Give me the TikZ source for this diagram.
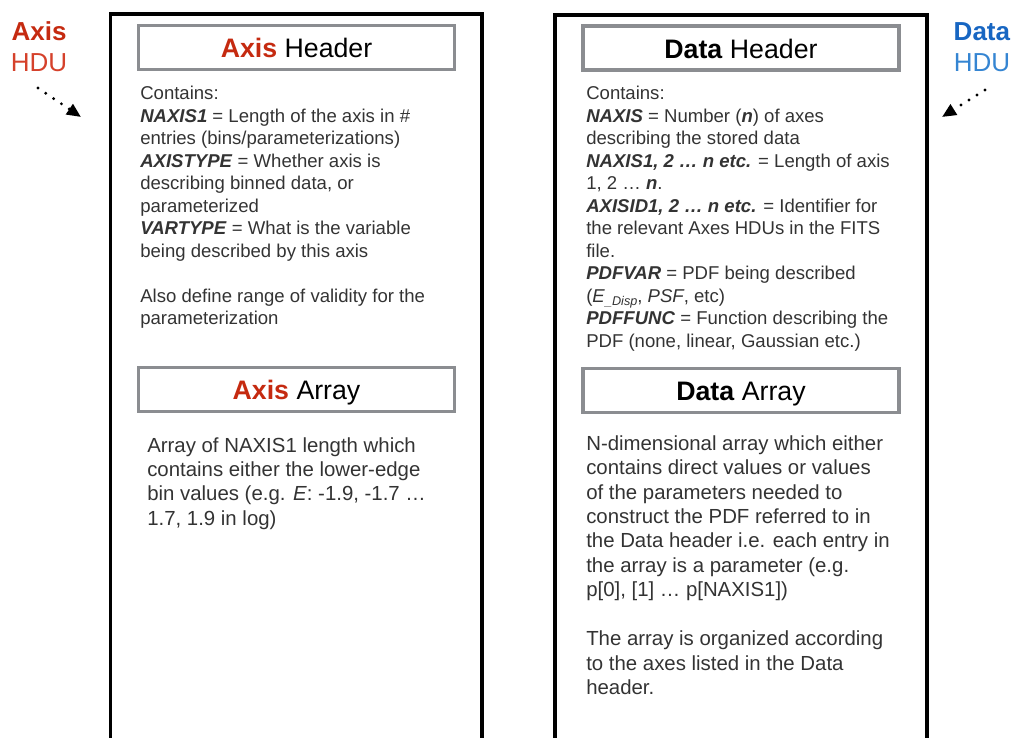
\documentclass[tikz,border=0pt]{standalone}
\usepackage{fontspec}
\setmainfont{Liberation Sans}
\usetikzlibrary{arrows.meta,positioning}

\definecolor{axisred}{HTML}{C52A10}
\definecolor{hdured}{HTML}{D5412B}
\definecolor{datablue}{HTML}{1766C2}
\definecolor{hdublue}{HTML}{3585D2}
\definecolor{boxgray}{HTML}{8B8D91}
\definecolor{bodytext}{HTML}{333333}

\newcommand{\keyword}[1]{\textbf{\textit{#1}}}
\newcommand{\edisp}{\textit{E}\raisebox{-0.3ex}{\fontsize{9}{9}\selectfont\textit{\_Disp}}}

\begin{document}
\begin{tikzpicture}[x = 0.025cm, y = -0.025cm,
    hdu/.style = {line width = 2.5pt, draw = black},
    titlebox/.style = {draw = boxgray, line width = 2.5pt, inner sep = 0pt,
        minimum width = 7.9cm, minimum height = 1.11cm,
        text height = 16pt, text depth = 1.5pt,
        font = \fontsize{19}{22}\selectfont},
    headtext/.style = {anchor = north west, align = left, inner sep = 0pt,
        text = bodytext, font = \fontsize{13.2}{16}\selectfont},
    arraytext/.style = {anchor = north west, align = left, inner sep = 0pt,
        text = bodytext, font = \fontsize{14.5}{17.4}\selectfont},
    sidelabel/.style = {align = center, inner sep = 0pt,
        font = \fontsize{18.5}{22}\selectfont},
    pointer/.style = {line width = 2.3pt, line cap = round,
        dash pattern = on 0pt off 6.7pt,
        -{Triangle[length = 10pt, width = 8.5pt]}}
]

        % Page frame.
        \useasboundingbox (0, 0) rectangle (1015, 738);

        % Positions for the ends of the pointers.
        \coordinate (axfrom) at (38, 88);
        \coordinate (axto) at (81, 117);
        \coordinate (datafrom) at (985, 90);
        \coordinate (datato) at (942, 117);

        % The two HDU columns, open at the bottom.
        \draw[hdu] (110.5, 738) |- (482, 14) -- (482, 738);
        \draw[hdu] (555, 738) |- (927, 15) -- (927, 738);

        % Labels at the sides and their pointers.
        \node[sidelabel, text = hdured] (axhdu) at (39, 47)
            {\textcolor{axisred}{\textbf{Axis}}\\HDU};
        \node[sidelabel, text = hdublue] (datahdu) at (982, 47)
            {\textcolor{datablue}{\textbf{Data}}\\HDU};
        \draw[pointer] (axfrom) to (axto);
        \draw[pointer] (datafrom) to (datato);

        % Axis HDU.
        \node[titlebox] (axhead) at (296.5, 47.5)
            {\textcolor{axisred}{\textbf{Axis}} Header};
        \node[headtext] (axheadtext) at (140, 86) {%
            Contains:\\
            \keyword{NAXIS1} = Length of the axis in \#\\
            entries (bins/parameterizations)\\
            \keyword{AXISTYPE} = Whether axis is\\
            describing binned data, or\\
            parameterized\\
            \keyword{VARTYPE} = What is the variable\\
            being described by this axis\\[16pt]
            Also define range of validity for the\\
            parameterization};
        \node[titlebox] (axarray) at (296.5, 389.5)
            {\textcolor{axisred}{\textbf{Axis}} Array};
        \node[arraytext] (axarraytext) at (147, 437) {%
            Array of NAXIS1 length which\\
            contains either the lower-edge\\
            bin values (e.g. \textit{E}: -1.9, -1.7 …\\
            1.7, 1.9 in log)};

        % Data HDU.
        \node[titlebox] (datahead) at (741, 48)
            {\textbf{Data} Header};
        \node[headtext] (dataheadtext) at (586, 86) {%
            Contains:\\
            \keyword{NAXIS} = Number (\keyword{n}) of axes\\
            describing the stored data\\
            \keyword{NAXIS1, 2 … n etc.} = Length of axis\\
            1, 2 … \keyword{n}.\\
            \keyword{AXISID1, 2 … n etc.} = Identifier for\\
            the relevant Axes HDUs in the FITS\\
            file.\\
            \keyword{PDFVAR} = PDF being described\\
            (\edisp, \textit{PSF}, etc)\\
            \keyword{PDFFUNC} = Function describing the\\
            PDF (none, linear, Gaussian etc.)};
        \node[titlebox] (dataarray) at (741, 390.5)
            {\textbf{Data} Array};
        \node[arraytext] (dataarraytext) at (586, 435) {%
            N-dimensional array which either\\
            contains direct values or values\\
            of the parameters needed to\\
            construct the PDF referred to in\\
            the Data header i.e. each entry in\\
            the array is a parameter (e.g.\\
            p[0], [1] … p[NAXIS1])\\[17.4pt]
            The array is organized according\\
            to the axes listed in the Data\\
            header.};
    \end{tikzpicture}
\end{document}
